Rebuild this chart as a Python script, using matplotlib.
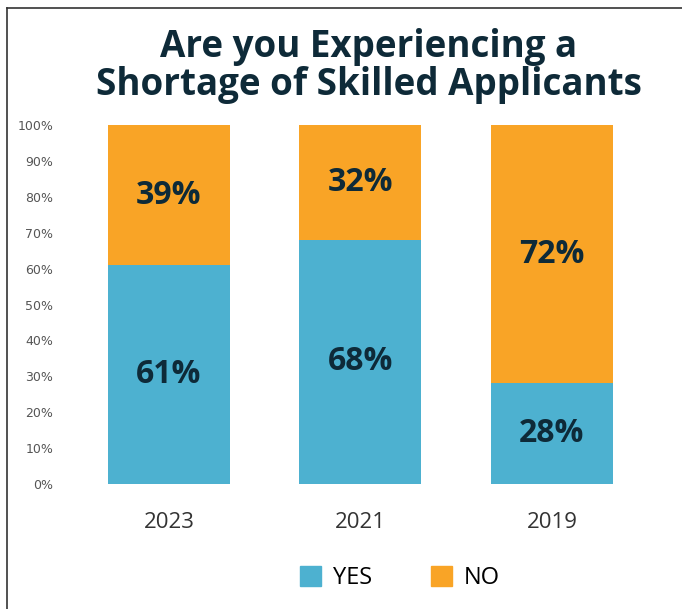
import matplotlib.pyplot as plt
from matplotlib.patches import Patch
from matplotlib.lines import Line2D

years = ["2023", "2021", "2019"]
yes_pct = [61, 68, 28]
no_pct = [39, 32, 72]
yticks = [0, 10, 20, 30, 40, 50, 60, 70, 80, 90, 100]

blue = "#4DB1D0"
orange = "#F9A426"
navy = "#0E2A38"

fig = plt.figure(figsize=(6.82, 6.09), dpi=100)
ax = fig.add_axes([60 / 682, 125 / 609, 600 / 682, 359 / 609])

x = list(range(len(years)))
ax.bar(x, yes_pct, width=0.637, color=blue)
ax.bar(x, no_pct, width=0.637, bottom=yes_pct, color=orange)

for i in x:
    ax.text(i, yes_pct[i] / 2, "%d%%" % yes_pct[i], ha="center", va="center",
            fontsize=23, fontweight="bold", color=navy, family="Open Sans")
    ax.text(i, yes_pct[i] + no_pct[i] / 2, "%d%%" % no_pct[i], ha="center", va="center",
            fontsize=23, fontweight="bold", color=navy, family="Open Sans")

ax.set_xlim(-0.569, 2.564)
ax.set_ylim(0, 100)
ax.set_yticks(yticks)
ax.set_yticklabels(["%d%%" % v for v in yticks], fontsize=9, color="#555555")
ax.set_xticks(x)
ax.set_xticklabels(years, fontsize=16, color="#333333", family="Open Sans")
ax.tick_params(length=0)
ax.tick_params(axis="y", pad=5)
ax.tick_params(axis="x", pad=20)
for s in ax.spines.values():
    s.set_visible(False)

fig.text(369 / 682, 1 - 66 / 609, "Are you Experiencing a\nShortage of Skilled Applicants",
         ha="center", va="center", fontsize=26.5, fontweight="bold", color=navy,
         family="Open Sans", linespacing=0.98)

handles = [Patch(color=blue, label="YES"), Patch(color=orange, label="NO")]
fig.legend(handles=handles, loc="center", bbox_to_anchor=(400 / 682, 1 - 578 / 609),
           ncol=2, frameon=False, handlelength=0.9, handleheight=0.9,
           columnspacing=2.5, handletextpad=0.5, prop={"family": "Open Sans", "size": 17})

# frame lines (top and left)
fig.add_artist(Line2D([7 / 682, 1], [1 - 8 / 609, 1 - 8 / 609], color="#333333", lw=1.2))
fig.add_artist(Line2D([7 / 682, 7 / 682], [0, 1 - 8 / 609], color="#333333", lw=1.2))

fig.savefig("out.png", dpi=100)
